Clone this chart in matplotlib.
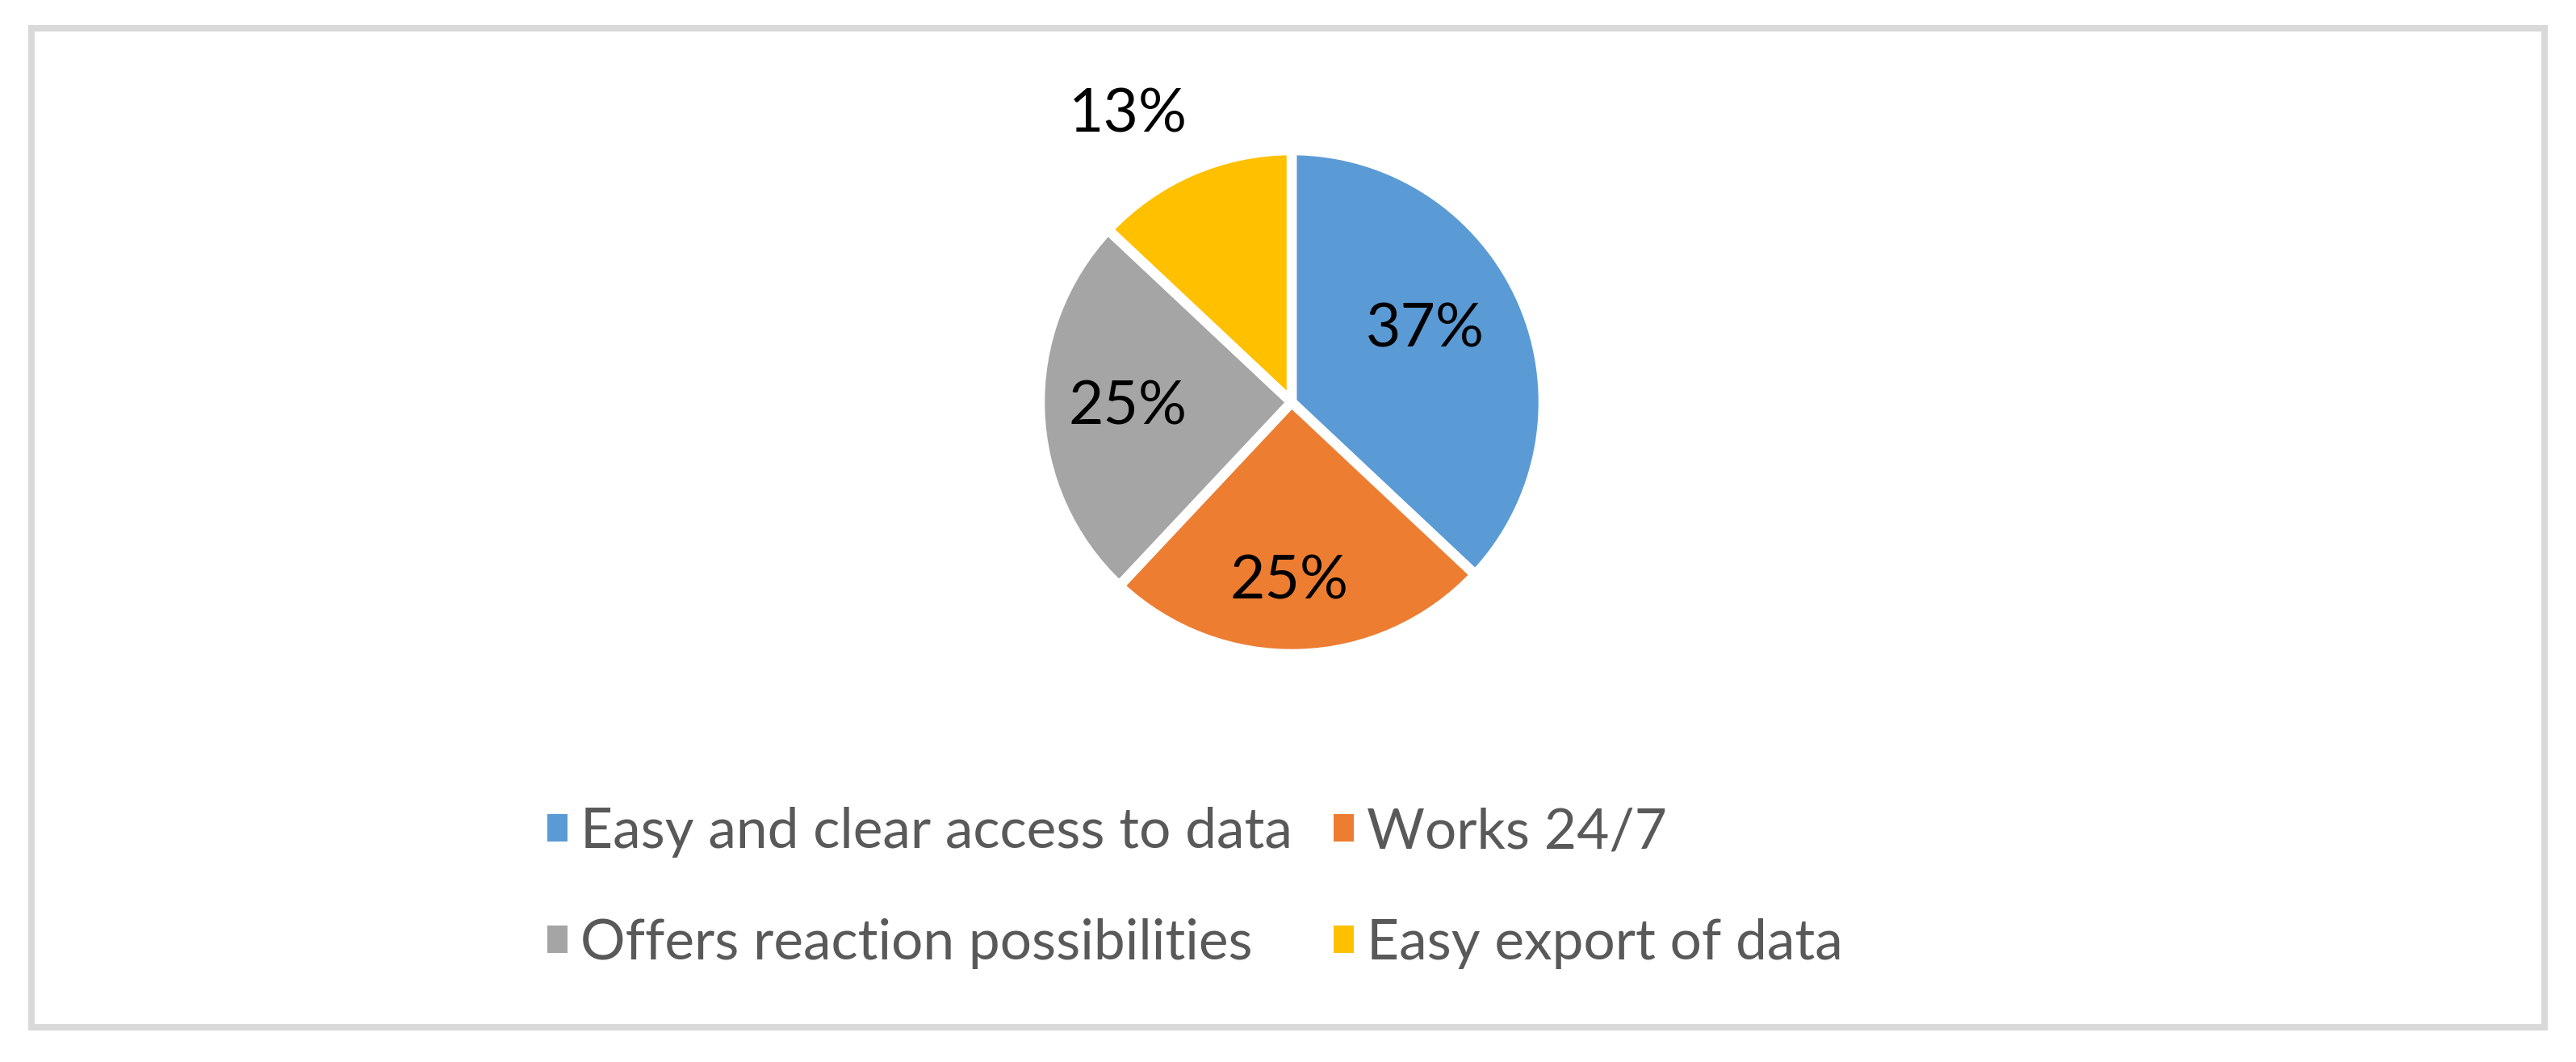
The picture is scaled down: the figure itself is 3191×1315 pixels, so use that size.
import matplotlib
matplotlib.use("Agg")
import matplotlib.pyplot as plt
from matplotlib.patches import Rectangle

labels = ["Easy and clear access to data", "Works 24/7",
          "Offers reaction possibilities", "Easy export of data"]
values = [37, 25, 25, 13]
colors = ["#5B9BD5", "#ED7D31", "#A5A5A5", "#FFC000"]

plt.rcParams['font.family'] = ['Lato', 'DejaVu Sans']

W, H = 3191, 1315
fig = plt.figure(figsize=(W / 100, H / 100), dpi=100)

# outer frame
fig.patches.append(Rectangle((39 / W, 1 - 1272 / H), (3152 - 39) / W, (1272 - 35) / H,
                             transform=fig.transFigure, fill=False,
                             edgecolor="#D9D9D9", linewidth=5.8))

# pie: centre (1600, 498), radius ~306 px visible (+ half of white edge)
cx, cy, r = 1600, 498, 312
ax = fig.add_axes([(cx - r) / W, 1 - (cy + r) / H, 2 * r / W, 2 * r / H])
wedges, texts, pcts = ax.pie(values, colors=colors, startangle=90, counterclock=False,
                             autopct='%1.0f%%', pctdistance=0.65,
                             wedgeprops=dict(edgecolor="white", linewidth=9),
                             textprops=dict(fontsize=54, color="black"))
ax.set_xlim(-1, 1)
ax.set_ylim(-1, 1)

# label positions (Excel best fit)
label_pos = [(0.53, 0.29), (-0.01, -0.71), (-0.65, -0.02), (-0.65, 1.14)]
for t, p in zip(pcts, label_pos):
    t.set_position(p)
    t.set_ha("center")
    t.set_va("center")

order = [0, 2, 1, 3]
leg = fig.legend([wedges[i] for i in order], [labels[i] for i in order],
                 ncol=2, loc="upper left", bbox_to_anchor=(678 / W, 1 - 999 / H),
                 frameon=False, fontsize=50, labelcolor="#595959",
                 borderpad=0, borderaxespad=0,
                 handlelength=0.36, handleheight=0.36, handletextpad=0.23,
                 columnspacing=0.73, labelspacing=1.08)
for h in leg.legend_handles:
    h.set_edgecolor("none")

fig.savefig("out.png", dpi=100)
